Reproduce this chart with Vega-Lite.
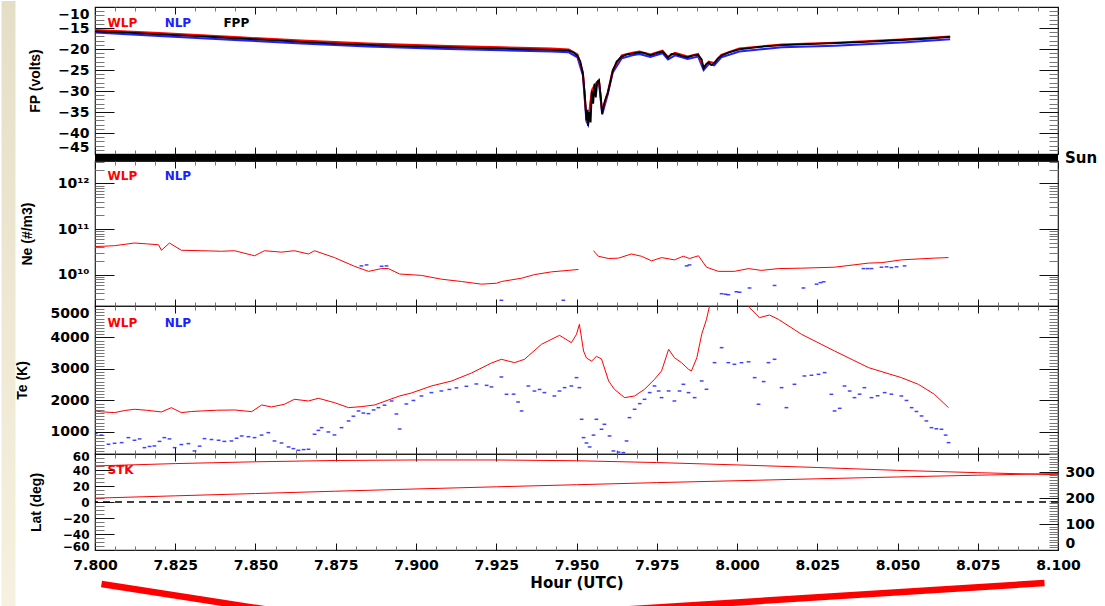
{
  "$schema": "https://vega.github.io/schema/vega-lite/v6.json",
  "padding": 0,
  "background": "#ffffff",
  "spacing": 0,
  "bounds": "flush",
  "config": {
    "font": "DejaVu Sans",
    "view": {"stroke": "#222222", "strokeWidth": 1.2},
    "axis": {
      "domain": false,
      "grid": false,
      "labelOverlap": false,
      "labelFont": "DejaVu Sans",
      "labelFontSize": 14,
      "labelFontWeight": "bold",
      "labelColor": "#000000",
      "titleFont": "Liberation Sans",
      "titleFontSize": 14,
      "titleFontWeight": "bold",
      "titleColor": "#000000",
      "tickWidth": 1
    },
    "text": {"font": "DejaVu Sans", "fontWeight": "bold", "fontSize": 12}
  },
  "datasets": {
    "fp": [
      {"t": 7.8000, "p": "NLP", "v": -16.1}, {"t": 7.8200, "p": "NLP", "v": -16.9}, {"t": 7.8450, "p": "NLP", "v": -17.9}, {"t": 7.8643, "p": "NLP", "v": -18.7},
      {"t": 7.8850, "p": "NLP", "v": -19.4}, {"t": 7.9100, "p": "NLP", "v": -20.0}, {"t": 7.9267, "p": "NLP", "v": -20.3}, {"t": 7.9422, "p": "NLP", "v": -20.6},
      {"t": 7.9476, "p": "NLP", "v": -20.8}, {"t": 7.9503, "p": "NLP", "v": -22.0}, {"t": 7.9520, "p": "NLP", "v": -26.3}, {"t": 7.9531, "p": "NLP", "v": -37.2},
      {"t": 7.9536, "p": "NLP", "v": -38.0}, {"t": 7.9548, "p": "NLP", "v": -30.3}, {"t": 7.9559, "p": "NLP", "v": -28.7}, {"t": 7.9570, "p": "NLP", "v": -27.9},
      {"t": 7.9580, "p": "NLP", "v": -35.6}, {"t": 7.9597, "p": "NLP", "v": -30.9}, {"t": 7.9613, "p": "NLP", "v": -25.6}, {"t": 7.9641, "p": "NLP", "v": -22.2},
      {"t": 7.9674, "p": "NLP", "v": -21.5}, {"t": 7.9696, "p": "NLP", "v": -21.2}, {"t": 7.9730, "p": "NLP", "v": -21.9}, {"t": 7.9768, "p": "NLP", "v": -21.0},
      {"t": 7.9785, "p": "NLP", "v": -22.5}, {"t": 7.9807, "p": "NLP", "v": -21.5}, {"t": 7.9846, "p": "NLP", "v": -22.4}, {"t": 7.9879, "p": "NLP", "v": -21.8},
      {"t": 7.9896, "p": "NLP", "v": -25.0}, {"t": 7.9912, "p": "NLP", "v": -23.6}, {"t": 7.9929, "p": "NLP", "v": -23.9}, {"t": 7.9951, "p": "NLP", "v": -22.0},
      {"t": 8.0007, "p": "NLP", "v": -20.6}, {"t": 8.0140, "p": "NLP", "v": -19.6}, {"t": 8.0305, "p": "NLP", "v": -19.2}, {"t": 8.0526, "p": "NLP", "v": -18.4},
      {"t": 8.0664, "p": "NLP", "v": -17.7},
      {"t": 7.8000, "p": "WLP", "v": -15.5}, {"t": 7.8200, "p": "WLP", "v": -16.2}, {"t": 7.8450, "p": "WLP", "v": -17.2}, {"t": 7.8643, "p": "WLP", "v": -18.0},
      {"t": 7.8850, "p": "WLP", "v": -18.7}, {"t": 7.9100, "p": "WLP", "v": -19.3}, {"t": 7.9267, "p": "WLP", "v": -19.6}, {"t": 7.9422, "p": "WLP", "v": -19.9},
      {"t": 7.9476, "p": "WLP", "v": -20.1}, {"t": 7.9503, "p": "WLP", "v": -21.3}, {"t": 7.9520, "p": "WLP", "v": -25.5}, {"t": 7.9531, "p": "WLP", "v": -36.5},
      {"t": 7.9536, "p": "WLP", "v": -37.5}, {"t": 7.9548, "p": "WLP", "v": -29.8}, {"t": 7.9559, "p": "WLP", "v": -28.3}, {"t": 7.9570, "p": "WLP", "v": -27.4},
      {"t": 7.9580, "p": "WLP", "v": -35.0}, {"t": 7.9597, "p": "WLP", "v": -30.4}, {"t": 7.9613, "p": "WLP", "v": -25.0}, {"t": 7.9641, "p": "WLP", "v": -21.5},
      {"t": 7.9674, "p": "WLP", "v": -20.9}, {"t": 7.9696, "p": "WLP", "v": -20.6}, {"t": 7.9730, "p": "WLP", "v": -21.3}, {"t": 7.9768, "p": "WLP", "v": -20.4},
      {"t": 7.9785, "p": "WLP", "v": -21.9}, {"t": 7.9807, "p": "WLP", "v": -20.9}, {"t": 7.9846, "p": "WLP", "v": -21.8}, {"t": 7.9879, "p": "WLP", "v": -21.2},
      {"t": 7.9896, "p": "WLP", "v": -24.4}, {"t": 7.9912, "p": "WLP", "v": -23.0}, {"t": 7.9929, "p": "WLP", "v": -23.3}, {"t": 7.9951, "p": "WLP", "v": -21.4},
      {"t": 8.0007, "p": "WLP", "v": -19.9}, {"t": 8.0140, "p": "WLP", "v": -18.9}, {"t": 8.0305, "p": "WLP", "v": -18.5}, {"t": 8.0526, "p": "WLP", "v": -17.7},
      {"t": 8.0664, "p": "WLP", "v": -17.0},
      {"t": 7.8000, "p": "FPP", "v": -15.8}, {"t": 7.8100, "p": "FPP", "v": -16.1}, {"t": 7.8200, "p": "FPP", "v": -16.5}, {"t": 7.8332, "p": "FPP", "v": -17.0},
      {"t": 7.8450, "p": "FPP", "v": -17.5}, {"t": 7.8550, "p": "FPP", "v": -17.9}, {"t": 7.8643, "p": "FPP", "v": -18.3}, {"t": 7.8750, "p": "FPP", "v": -18.7},
      {"t": 7.8850, "p": "FPP", "v": -19.0}, {"t": 7.8955, "p": "FPP", "v": -19.3}, {"t": 7.9100, "p": "FPP", "v": -19.6}, {"t": 7.9267, "p": "FPP", "v": -19.9},
      {"t": 7.9350, "p": "FPP", "v": -20.1}, {"t": 7.9422, "p": "FPP", "v": -20.2}, {"t": 7.9476, "p": "FPP", "v": -20.4}, {"t": 7.9490, "p": "FPP", "v": -20.8},
      {"t": 7.9503, "p": "FPP", "v": -21.6}, {"t": 7.9512, "p": "FPP", "v": -23.0}, {"t": 7.9520, "p": "FPP", "v": -25.9}, {"t": 7.9526, "p": "FPP", "v": -31.0},
      {"t": 7.9531, "p": "FPP", "v": -37.0}, {"t": 7.9534, "p": "FPP", "v": -34.5}, {"t": 7.9536, "p": "FPP", "v": -38.3}, {"t": 7.9540, "p": "FPP", "v": -35.0},
      {"t": 7.9544, "p": "FPP", "v": -37.5}, {"t": 7.9548, "p": "FPP", "v": -30.0}, {"t": 7.9552, "p": "FPP", "v": -33.0}, {"t": 7.9556, "p": "FPP", "v": -28.3},
      {"t": 7.9560, "p": "FPP", "v": -31.5}, {"t": 7.9565, "p": "FPP", "v": -27.8}, {"t": 7.9570, "p": "FPP", "v": -27.5}, {"t": 7.9575, "p": "FPP", "v": -31.0},
      {"t": 7.9580, "p": "FPP", "v": -35.4}, {"t": 7.9586, "p": "FPP", "v": -33.0}, {"t": 7.9592, "p": "FPP", "v": -31.5}, {"t": 7.9597, "p": "FPP", "v": -30.6},
      {"t": 7.9605, "p": "FPP", "v": -28.0}, {"t": 7.9613, "p": "FPP", "v": -25.2}, {"t": 7.9625, "p": "FPP", "v": -23.0}, {"t": 7.9641, "p": "FPP", "v": -21.8},
      {"t": 7.9657, "p": "FPP", "v": -21.3}, {"t": 7.9674, "p": "FPP", "v": -21.1}, {"t": 7.9696, "p": "FPP", "v": -20.8}, {"t": 7.9712, "p": "FPP", "v": -21.0},
      {"t": 7.9730, "p": "FPP", "v": -21.5}, {"t": 7.9750, "p": "FPP", "v": -21.0}, {"t": 7.9768, "p": "FPP", "v": -20.6}, {"t": 7.9776, "p": "FPP", "v": -21.3},
      {"t": 7.9785, "p": "FPP", "v": -22.1}, {"t": 7.9795, "p": "FPP", "v": -21.2}, {"t": 7.9807, "p": "FPP", "v": -21.1}, {"t": 7.9825, "p": "FPP", "v": -21.6},
      {"t": 7.9846, "p": "FPP", "v": -22.0}, {"t": 7.9862, "p": "FPP", "v": -21.6}, {"t": 7.9879, "p": "FPP", "v": -21.4}, {"t": 7.9890, "p": "FPP", "v": -22.5},
      {"t": 7.9896, "p": "FPP", "v": -24.6}, {"t": 7.9904, "p": "FPP", "v": -23.6}, {"t": 7.9912, "p": "FPP", "v": -23.2}, {"t": 7.9920, "p": "FPP", "v": -23.8},
      {"t": 7.9929, "p": "FPP", "v": -23.4}, {"t": 7.9940, "p": "FPP", "v": -22.3}, {"t": 7.9951, "p": "FPP", "v": -21.6}, {"t": 7.9975, "p": "FPP", "v": -20.8},
      {"t": 8.0007, "p": "FPP", "v": -20.1}, {"t": 8.0070, "p": "FPP", "v": -19.5}, {"t": 8.0140, "p": "FPP", "v": -19.1}, {"t": 8.0220, "p": "FPP", "v": -18.85},
      {"t": 8.0305, "p": "FPP", "v": -18.6}, {"t": 8.0400, "p": "FPP", "v": -18.3}, {"t": 8.0526, "p": "FPP", "v": -17.8}, {"t": 8.0600, "p": "FPP", "v": -17.5},
      {"t": 8.0664, "p": "FPP", "v": -17.1}
    ],
    "sun": [{"t0": 7.8, "t1": 8.1, "state": "Sun"}],
    "ne": [
      {"t": 7.8002, "p": "WLP", "seg": "a", "v": 4.17e10}, {"t": 7.8061, "p": "WLP", "seg": "a", "v": 4.37e10}, {"t": 7.8123, "p": "WLP", "seg": "a", "v": 5.0e10},
      {"t": 7.8160, "p": "WLP", "seg": "a", "v": 4.8e10}, {"t": 7.8198, "p": "WLP", "seg": "a", "v": 4.57e10}, {"t": 7.8207, "p": "WLP", "seg": "a", "v": 3.47e10},
      {"t": 7.8232, "p": "WLP", "seg": "a", "v": 5.0e10}, {"t": 7.8269, "p": "WLP", "seg": "a", "v": 3.47e10}, {"t": 7.8332, "p": "WLP", "seg": "a", "v": 3.39e10},
      {"t": 7.8394, "p": "WLP", "seg": "a", "v": 3.3e10}, {"t": 7.8435, "p": "WLP", "seg": "a", "v": 3.39e10}, {"t": 7.8497, "p": "WLP", "seg": "a", "v": 2.63e10},
      {"t": 7.8528, "p": "WLP", "seg": "a", "v": 3.39e10}, {"t": 7.8581, "p": "WLP", "seg": "a", "v": 3.16e10}, {"t": 7.8621, "p": "WLP", "seg": "a", "v": 3.39e10},
      {"t": 7.8665, "p": "WLP", "seg": "a", "v": 2.88e10}, {"t": 7.8684, "p": "WLP", "seg": "a", "v": 3.39e10}, {"t": 7.8746, "p": "WLP", "seg": "a", "v": 2.4e10},
      {"t": 7.8808, "p": "WLP", "seg": "a", "v": 1.55e10}, {"t": 7.8852, "p": "WLP", "seg": "a", "v": 1.2e10}, {"t": 7.8893, "p": "WLP", "seg": "a", "v": 1.38e10},
      {"t": 7.8914, "p": "WLP", "seg": "a", "v": 1.38e10}, {"t": 7.8949, "p": "WLP", "seg": "a", "v": 1.05e10}, {"t": 7.9017, "p": "WLP", "seg": "a", "v": 9.8e9},
      {"t": 7.9079, "p": "WLP", "seg": "a", "v": 8.1e9}, {"t": 7.9142, "p": "WLP", "seg": "a", "v": 7.2e9}, {"t": 7.9204, "p": "WLP", "seg": "a", "v": 6.3e9},
      {"t": 7.9251, "p": "WLP", "seg": "a", "v": 6.6e9}, {"t": 7.9266, "p": "WLP", "seg": "a", "v": 7.2e9}, {"t": 7.9329, "p": "WLP", "seg": "a", "v": 8.5e9},
      {"t": 7.9369, "p": "WLP", "seg": "a", "v": 1.02e10}, {"t": 7.9422, "p": "WLP", "seg": "a", "v": 1.17e10}, {"t": 7.9506, "p": "WLP", "seg": "a", "v": 1.32e10},
      {"t": 7.9553, "p": "WLP", "seg": "b", "v": 3.4e10}, {"t": 7.9568, "p": "WLP", "seg": "b", "v": 2.57e10}, {"t": 7.9600, "p": "WLP", "seg": "b", "v": 2.29e10},
      {"t": 7.9631, "p": "WLP", "seg": "b", "v": 2.34e10}, {"t": 7.9671, "p": "WLP", "seg": "b", "v": 2.88e10}, {"t": 7.9702, "p": "WLP", "seg": "b", "v": 2.57e10},
      {"t": 7.9734, "p": "WLP", "seg": "b", "v": 2.04e10}, {"t": 7.9765, "p": "WLP", "seg": "b", "v": 2.4e10}, {"t": 7.9805, "p": "WLP", "seg": "b", "v": 2.14e10},
      {"t": 7.9833, "p": "WLP", "seg": "b", "v": 2.57e10}, {"t": 7.9852, "p": "WLP", "seg": "b", "v": 2.29e10}, {"t": 7.9880, "p": "WLP", "seg": "b", "v": 2.63e10},
      {"t": 7.9905, "p": "WLP", "seg": "b", "v": 1.48e10}, {"t": 7.9942, "p": "WLP", "seg": "b", "v": 1.2e10}, {"t": 7.9992, "p": "WLP", "seg": "b", "v": 1.2e10},
      {"t": 8.0036, "p": "WLP", "seg": "b", "v": 1.38e10}, {"t": 8.0076, "p": "WLP", "seg": "b", "v": 1.26e10}, {"t": 8.0129, "p": "WLP", "seg": "b", "v": 1.38e10},
      {"t": 8.0201, "p": "WLP", "seg": "b", "v": 1.41e10}, {"t": 8.0304, "p": "WLP", "seg": "b", "v": 1.48e10}, {"t": 8.0410, "p": "WLP", "seg": "b", "v": 1.82e10},
      {"t": 8.0450, "p": "WLP", "seg": "b", "v": 1.86e10}, {"t": 8.0512, "p": "WLP", "seg": "b", "v": 2.14e10}, {"t": 8.0615, "p": "WLP", "seg": "b", "v": 2.34e10},
      {"t": 8.0659, "p": "WLP", "seg": "b", "v": 2.4e10},
      {"t": 7.8830, "p": "NLP", "seg": "a", "v": 1.58e10}, {"t": 7.8846, "p": "NLP", "seg": "a", "v": 1.66e10}, {"t": 7.8893, "p": "NLP", "seg": "a", "v": 1.55e10},
      {"t": 7.8908, "p": "NLP", "seg": "a", "v": 1.58e10}, {"t": 7.9266, "p": "NLP", "seg": "a", "v": 2.8e9}, {"t": 7.9459, "p": "NLP", "seg": "a", "v": 2.8e9},
      {"t": 7.9843, "p": "NLP", "seg": "a", "v": 1.58e10}, {"t": 7.9852, "p": "NLP", "seg": "a", "v": 1.66e10}, {"t": 7.9952, "p": "NLP", "seg": "a", "v": 3.9e9},
      {"t": 7.9964, "p": "NLP", "seg": "a", "v": 3.8e9}, {"t": 7.9973, "p": "NLP", "seg": "a", "v": 3.7e9}, {"t": 7.9998, "p": "NLP", "seg": "a", "v": 4.3e9},
      {"t": 8.0008, "p": "NLP", "seg": "a", "v": 4.2e9}, {"t": 8.0039, "p": "NLP", "seg": "a", "v": 5.2e9}, {"t": 8.0117, "p": "NLP", "seg": "a", "v": 5.9e9},
      {"t": 8.0207, "p": "NLP", "seg": "a", "v": 5.2e9}, {"t": 8.0248, "p": "NLP", "seg": "a", "v": 6.3e9}, {"t": 8.0260, "p": "NLP", "seg": "a", "v": 6.8e9},
      {"t": 8.0270, "p": "NLP", "seg": "a", "v": 7.1e9}, {"t": 8.0394, "p": "NLP", "seg": "a", "v": 1.38e10}, {"t": 8.0407, "p": "NLP", "seg": "a", "v": 1.38e10},
      {"t": 8.0419, "p": "NLP", "seg": "a", "v": 1.38e10}, {"t": 8.0450, "p": "NLP", "seg": "a", "v": 1.48e10}, {"t": 8.0466, "p": "NLP", "seg": "a", "v": 1.51e10},
      {"t": 8.0481, "p": "NLP", "seg": "a", "v": 1.45e10}, {"t": 8.0497, "p": "NLP", "seg": "a", "v": 1.51e10}, {"t": 8.0522, "p": "NLP", "seg": "a", "v": 1.58e10}
    ],
    "te": [
      {"t": 7.8002, "p": "WLP", "seg": "a", "v": 1667}, {"t": 7.8020, "p": "WLP", "seg": "a", "v": 1640}, {"t": 7.8061, "p": "WLP", "seg": "a", "v": 1614},
      {"t": 7.8092, "p": "WLP", "seg": "a", "v": 1680}, {"t": 7.8123, "p": "WLP", "seg": "a", "v": 1720}, {"t": 7.8160, "p": "WLP", "seg": "a", "v": 1690},
      {"t": 7.8207, "p": "WLP", "seg": "a", "v": 1635}, {"t": 7.8238, "p": "WLP", "seg": "a", "v": 1772}, {"t": 7.8269, "p": "WLP", "seg": "a", "v": 1614},
      {"t": 7.8301, "p": "WLP", "seg": "a", "v": 1650}, {"t": 7.8332, "p": "WLP", "seg": "a", "v": 1667}, {"t": 7.8379, "p": "WLP", "seg": "a", "v": 1690},
      {"t": 7.8435, "p": "WLP", "seg": "a", "v": 1698}, {"t": 7.8488, "p": "WLP", "seg": "a", "v": 1645}, {"t": 7.8519, "p": "WLP", "seg": "a", "v": 1857},
      {"t": 7.8550, "p": "WLP", "seg": "a", "v": 1794}, {"t": 7.8590, "p": "WLP", "seg": "a", "v": 1879}, {"t": 7.8621, "p": "WLP", "seg": "a", "v": 2037},
      {"t": 7.8665, "p": "WLP", "seg": "a", "v": 1984}, {"t": 7.8696, "p": "WLP", "seg": "a", "v": 2069}, {"t": 7.8746, "p": "WLP", "seg": "a", "v": 1931},
      {"t": 7.8790, "p": "WLP", "seg": "a", "v": 1772}, {"t": 7.8830, "p": "WLP", "seg": "a", "v": 1804}, {"t": 7.8871, "p": "WLP", "seg": "a", "v": 1857},
      {"t": 7.8914, "p": "WLP", "seg": "a", "v": 2016}, {"t": 7.8949, "p": "WLP", "seg": "a", "v": 2143}, {"t": 7.8986, "p": "WLP", "seg": "a", "v": 2238},
      {"t": 7.9048, "p": "WLP", "seg": "a", "v": 2460}, {"t": 7.9111, "p": "WLP", "seg": "a", "v": 2619}, {"t": 7.9173, "p": "WLP", "seg": "a", "v": 2873},
      {"t": 7.9235, "p": "WLP", "seg": "a", "v": 3190}, {"t": 7.9266, "p": "WLP", "seg": "a", "v": 3307}, {"t": 7.9307, "p": "WLP", "seg": "a", "v": 3201},
      {"t": 7.9338, "p": "WLP", "seg": "a", "v": 3307}, {"t": 7.9391, "p": "WLP", "seg": "a", "v": 3784}, {"t": 7.9447, "p": "WLP", "seg": "a", "v": 4069},
      {"t": 7.9484, "p": "WLP", "seg": "a", "v": 3836}, {"t": 7.9500, "p": "WLP", "seg": "a", "v": 4100}, {"t": 7.9509, "p": "WLP", "seg": "a", "v": 4418},
      {"t": 7.9522, "p": "WLP", "seg": "a", "v": 3571}, {"t": 7.9531, "p": "WLP", "seg": "a", "v": 3350}, {"t": 7.9547, "p": "WLP", "seg": "a", "v": 3250},
      {"t": 7.9562, "p": "WLP", "seg": "a", "v": 3400}, {"t": 7.9578, "p": "WLP", "seg": "a", "v": 3317}, {"t": 7.9600, "p": "WLP", "seg": "a", "v": 2619},
      {"t": 7.9618, "p": "WLP", "seg": "a", "v": 2355}, {"t": 7.9650, "p": "WLP", "seg": "a", "v": 2090}, {"t": 7.9681, "p": "WLP", "seg": "a", "v": 2143},
      {"t": 7.9712, "p": "WLP", "seg": "a", "v": 2355}, {"t": 7.9743, "p": "WLP", "seg": "a", "v": 2672}, {"t": 7.9765, "p": "WLP", "seg": "a", "v": 2937},
      {"t": 7.9787, "p": "WLP", "seg": "a", "v": 3625}, {"t": 7.9805, "p": "WLP", "seg": "a", "v": 3360}, {"t": 7.9827, "p": "WLP", "seg": "a", "v": 3201},
      {"t": 7.9849, "p": "WLP", "seg": "a", "v": 2990}, {"t": 7.9858, "p": "WLP", "seg": "a", "v": 2937}, {"t": 7.9875, "p": "WLP", "seg": "a", "v": 3360},
      {"t": 7.9890, "p": "WLP", "seg": "a", "v": 4101}, {"t": 7.9905, "p": "WLP", "seg": "a", "v": 4577}, {"t": 7.9921, "p": "WLP", "seg": "a", "v": 5300},
      {"t": 8.0020, "p": "WLP", "seg": "b", "v": 5300}, {"t": 8.0039, "p": "WLP", "seg": "b", "v": 4947}, {"t": 8.0070, "p": "WLP", "seg": "b", "v": 4630},
      {"t": 8.0101, "p": "WLP", "seg": "b", "v": 4714}, {"t": 8.0129, "p": "WLP", "seg": "b", "v": 4577}, {"t": 8.0201, "p": "WLP", "seg": "b", "v": 4101},
      {"t": 8.0304, "p": "WLP", "seg": "b", "v": 3571}, {"t": 8.0410, "p": "WLP", "seg": "b", "v": 3042}, {"t": 8.0512, "p": "WLP", "seg": "b", "v": 2725},
      {"t": 8.0565, "p": "WLP", "seg": "b", "v": 2513}, {"t": 8.0615, "p": "WLP", "seg": "b", "v": 2196}, {"t": 8.0659, "p": "WLP", "seg": "b", "v": 1772},
      {"t": 7.8002, "p": "NLP", "seg": "a", "v": 950}, {"t": 7.8020, "p": "NLP", "seg": "a", "v": 900}, {"t": 7.8042, "p": "NLP", "seg": "a", "v": 610},
      {"t": 7.8061, "p": "NLP", "seg": "a", "v": 640}, {"t": 7.8083, "p": "NLP", "seg": "a", "v": 661}, {"t": 7.8104, "p": "NLP", "seg": "a", "v": 820},
      {"t": 7.8123, "p": "NLP", "seg": "a", "v": 736}, {"t": 7.8139, "p": "NLP", "seg": "a", "v": 780}, {"t": 7.8154, "p": "NLP", "seg": "a", "v": 502},
      {"t": 7.8170, "p": "NLP", "seg": "a", "v": 540}, {"t": 7.8185, "p": "NLP", "seg": "a", "v": 556}, {"t": 7.8201, "p": "NLP", "seg": "a", "v": 700},
      {"t": 7.8216, "p": "NLP", "seg": "a", "v": 820}, {"t": 7.8232, "p": "NLP", "seg": "a", "v": 780}, {"t": 7.8248, "p": "NLP", "seg": "a", "v": 502},
      {"t": 7.8269, "p": "NLP", "seg": "a", "v": 600}, {"t": 7.8291, "p": "NLP", "seg": "a", "v": 630}, {"t": 7.8310, "p": "NLP", "seg": "a", "v": 397},
      {"t": 7.8326, "p": "NLP", "seg": "a", "v": 550}, {"t": 7.8341, "p": "NLP", "seg": "a", "v": 788}, {"t": 7.8363, "p": "NLP", "seg": "a", "v": 760},
      {"t": 7.8385, "p": "NLP", "seg": "a", "v": 736}, {"t": 7.8403, "p": "NLP", "seg": "a", "v": 700}, {"t": 7.8425, "p": "NLP", "seg": "a", "v": 714},
      {"t": 7.8441, "p": "NLP", "seg": "a", "v": 800}, {"t": 7.8457, "p": "NLP", "seg": "a", "v": 873}, {"t": 7.8478, "p": "NLP", "seg": "a", "v": 850},
      {"t": 7.8497, "p": "NLP", "seg": "a", "v": 820}, {"t": 7.8519, "p": "NLP", "seg": "a", "v": 900}, {"t": 7.8540, "p": "NLP", "seg": "a", "v": 978},
      {"t": 7.8559, "p": "NLP", "seg": "a", "v": 714}, {"t": 7.8581, "p": "NLP", "seg": "a", "v": 650}, {"t": 7.8603, "p": "NLP", "seg": "a", "v": 524},
      {"t": 7.8618, "p": "NLP", "seg": "a", "v": 470}, {"t": 7.8634, "p": "NLP", "seg": "a", "v": 418}, {"t": 7.8650, "p": "NLP", "seg": "a", "v": 440},
      {"t": 7.8665, "p": "NLP", "seg": "a", "v": 450}, {"t": 7.8684, "p": "NLP", "seg": "a", "v": 927}, {"t": 7.8696, "p": "NLP", "seg": "a", "v": 1050},
      {"t": 7.8706, "p": "NLP", "seg": "a", "v": 1137}, {"t": 7.8727, "p": "NLP", "seg": "a", "v": 1000}, {"t": 7.8746, "p": "NLP", "seg": "a", "v": 905},
      {"t": 7.8768, "p": "NLP", "seg": "a", "v": 1137}, {"t": 7.8790, "p": "NLP", "seg": "a", "v": 1349}, {"t": 7.8805, "p": "NLP", "seg": "a", "v": 1500},
      {"t": 7.8821, "p": "NLP", "seg": "a", "v": 1667}, {"t": 7.8836, "p": "NLP", "seg": "a", "v": 1600}, {"t": 7.8852, "p": "NLP", "seg": "a", "v": 1582},
      {"t": 7.8868, "p": "NLP", "seg": "a", "v": 1700}, {"t": 7.8883, "p": "NLP", "seg": "a", "v": 1772}, {"t": 7.8902, "p": "NLP", "seg": "a", "v": 1850},
      {"t": 7.8924, "p": "NLP", "seg": "a", "v": 1984}, {"t": 7.8939, "p": "NLP", "seg": "a", "v": 1571}, {"t": 7.8949, "p": "NLP", "seg": "a", "v": 1095},
      {"t": 7.8970, "p": "NLP", "seg": "a", "v": 1889}, {"t": 7.8992, "p": "NLP", "seg": "a", "v": 2000}, {"t": 7.9017, "p": "NLP", "seg": "a", "v": 2143},
      {"t": 7.9048, "p": "NLP", "seg": "a", "v": 2250}, {"t": 7.9079, "p": "NLP", "seg": "a", "v": 2302}, {"t": 7.9104, "p": "NLP", "seg": "a", "v": 2350},
      {"t": 7.9126, "p": "NLP", "seg": "a", "v": 2400}, {"t": 7.9157, "p": "NLP", "seg": "a", "v": 2450}, {"t": 7.9188, "p": "NLP", "seg": "a", "v": 2524},
      {"t": 7.9220, "p": "NLP", "seg": "a", "v": 2480}, {"t": 7.9235, "p": "NLP", "seg": "a", "v": 2430}, {"t": 7.9266, "p": "NLP", "seg": "a", "v": 2746},
      {"t": 7.9282, "p": "NLP", "seg": "a", "v": 2196}, {"t": 7.9304, "p": "NLP", "seg": "a", "v": 2200}, {"t": 7.9318, "p": "NLP", "seg": "a", "v": 1952},
      {"t": 7.9329, "p": "NLP", "seg": "a", "v": 1667}, {"t": 7.9350, "p": "NLP", "seg": "a", "v": 2460}, {"t": 7.9369, "p": "NLP", "seg": "a", "v": 2300},
      {"t": 7.9385, "p": "NLP", "seg": "a", "v": 2350}, {"t": 7.9400, "p": "NLP", "seg": "a", "v": 2250}, {"t": 7.9431, "p": "NLP", "seg": "a", "v": 2143},
      {"t": 7.9447, "p": "NLP", "seg": "a", "v": 2300}, {"t": 7.9463, "p": "NLP", "seg": "a", "v": 2407}, {"t": 7.9484, "p": "NLP", "seg": "a", "v": 2460},
      {"t": 7.9500, "p": "NLP", "seg": "a", "v": 2725}, {"t": 7.9509, "p": "NLP", "seg": "a", "v": 2407}, {"t": 7.9516, "p": "NLP", "seg": "a", "v": 1402},
      {"t": 7.9522, "p": "NLP", "seg": "a", "v": 820}, {"t": 7.9531, "p": "NLP", "seg": "a", "v": 650}, {"t": 7.9541, "p": "NLP", "seg": "a", "v": 524},
      {"t": 7.9553, "p": "NLP", "seg": "a", "v": 900}, {"t": 7.9562, "p": "NLP", "seg": "a", "v": 1402}, {"t": 7.9578, "p": "NLP", "seg": "a", "v": 1085},
      {"t": 7.9587, "p": "NLP", "seg": "a", "v": 1243}, {"t": 7.9603, "p": "NLP", "seg": "a", "v": 873}, {"t": 7.9615, "p": "NLP", "seg": "a", "v": 397},
      {"t": 7.9631, "p": "NLP", "seg": "a", "v": 360}, {"t": 7.9646, "p": "NLP", "seg": "a", "v": 344}, {"t": 7.9656, "p": "NLP", "seg": "a", "v": 714},
      {"t": 7.9665, "p": "NLP", "seg": "a", "v": 1455}, {"t": 7.9681, "p": "NLP", "seg": "a", "v": 1720}, {"t": 7.9697, "p": "NLP", "seg": "a", "v": 1900},
      {"t": 7.9712, "p": "NLP", "seg": "a", "v": 2037}, {"t": 7.9728, "p": "NLP", "seg": "a", "v": 2250}, {"t": 7.9743, "p": "NLP", "seg": "a", "v": 2460},
      {"t": 7.9756, "p": "NLP", "seg": "a", "v": 2300}, {"t": 7.9765, "p": "NLP", "seg": "a", "v": 2090}, {"t": 7.9787, "p": "NLP", "seg": "a", "v": 2302},
      {"t": 7.9805, "p": "NLP", "seg": "a", "v": 1984}, {"t": 7.9821, "p": "NLP", "seg": "a", "v": 2300}, {"t": 7.9833, "p": "NLP", "seg": "a", "v": 2513},
      {"t": 7.9849, "p": "NLP", "seg": "a", "v": 2249}, {"t": 7.9868, "p": "NLP", "seg": "a", "v": 2090}, {"t": 7.9890, "p": "NLP", "seg": "a", "v": 2619},
      {"t": 7.9905, "p": "NLP", "seg": "a", "v": 2355}, {"t": 7.9930, "p": "NLP", "seg": "a", "v": 3201}, {"t": 7.9952, "p": "NLP", "seg": "a", "v": 3677},
      {"t": 7.9973, "p": "NLP", "seg": "a", "v": 3201}, {"t": 7.9992, "p": "NLP", "seg": "a", "v": 3148}, {"t": 8.0014, "p": "NLP", "seg": "a", "v": 3200},
      {"t": 8.0036, "p": "NLP", "seg": "a", "v": 3228}, {"t": 8.0055, "p": "NLP", "seg": "a", "v": 2725}, {"t": 8.0067, "p": "NLP", "seg": "a", "v": 1879},
      {"t": 8.0083, "p": "NLP", "seg": "a", "v": 2600}, {"t": 8.0098, "p": "NLP", "seg": "a", "v": 3201}, {"t": 8.0117, "p": "NLP", "seg": "a", "v": 3307},
      {"t": 8.0139, "p": "NLP", "seg": "a", "v": 2407}, {"t": 8.0154, "p": "NLP", "seg": "a", "v": 1772}, {"t": 8.0179, "p": "NLP", "seg": "a", "v": 2513},
      {"t": 8.0210, "p": "NLP", "seg": "a", "v": 2778}, {"t": 8.0232, "p": "NLP", "seg": "a", "v": 2800}, {"t": 8.0254, "p": "NLP", "seg": "a", "v": 2831},
      {"t": 8.0273, "p": "NLP", "seg": "a", "v": 2884}, {"t": 8.0294, "p": "NLP", "seg": "a", "v": 2196}, {"t": 8.0304, "p": "NLP", "seg": "a", "v": 1667},
      {"t": 8.0320, "p": "NLP", "seg": "a", "v": 1750}, {"t": 8.0335, "p": "NLP", "seg": "a", "v": 2460}, {"t": 8.0351, "p": "NLP", "seg": "a", "v": 2300},
      {"t": 8.0366, "p": "NLP", "seg": "a", "v": 2090}, {"t": 8.0382, "p": "NLP", "seg": "a", "v": 2200}, {"t": 8.0397, "p": "NLP", "seg": "a", "v": 2407},
      {"t": 8.0419, "p": "NLP", "seg": "a", "v": 2090}, {"t": 8.0438, "p": "NLP", "seg": "a", "v": 2150}, {"t": 8.0460, "p": "NLP", "seg": "a", "v": 2249},
      {"t": 8.0481, "p": "NLP", "seg": "a", "v": 2200}, {"t": 8.0512, "p": "NLP", "seg": "a", "v": 2143}, {"t": 8.0528, "p": "NLP", "seg": "a", "v": 2000},
      {"t": 8.0544, "p": "NLP", "seg": "a", "v": 1772}, {"t": 8.0559, "p": "NLP", "seg": "a", "v": 1650}, {"t": 8.0575, "p": "NLP", "seg": "a", "v": 1508},
      {"t": 8.0590, "p": "NLP", "seg": "a", "v": 1350}, {"t": 8.0606, "p": "NLP", "seg": "a", "v": 1137}, {"t": 8.0621, "p": "NLP", "seg": "a", "v": 1100},
      {"t": 8.0637, "p": "NLP", "seg": "a", "v": 1085}, {"t": 8.0650, "p": "NLP", "seg": "a", "v": 900}, {"t": 8.0659, "p": "NLP", "seg": "a", "v": 661}
    ],
    "orbit": [
      {"t": 7.800, "lat": 4.8, "lon": 324}, {"t": 7.825, "lat": 7.7, "lon": 333}, {"t": 7.850, "lat": 10.6, "lon": 340},
      {"t": 7.875, "lat": 13.5, "lon": 345}, {"t": 7.900, "lat": 16.3, "lon": 347}, {"t": 7.925, "lat": 19.0, "lon": 347},
      {"t": 7.950, "lat": 21.6, "lon": 344}, {"t": 7.975, "lat": 24.2, "lon": 337}, {"t": 8.000, "lat": 26.6, "lon": 328},
      {"t": 8.025, "lat": 29.0, "lon": 318}, {"t": 8.050, "lat": 31.3, "lon": 307}, {"t": 8.075, "lat": 33.5, "lon": 298},
      {"t": 8.100, "lat": 35.6, "lon": 290}
    ],
    "links": [
      {"seg": "a", "t": 7.80202, "lon": -131.0}, {"seg": "a", "t": 7.86433, "lon": -250.5},
      {"seg": "b", "t": 7.95779, "lon": -235.1}, {"seg": "b", "t": 8.09579, "lon": -127.2}
    ]
  },
  "vconcat": [
    {
      "width": 963,
      "height": 147,
      "resolve": {"axis": {"x": "independent", "y": "independent"}},
      "layer": [
        {
          "data": {"name": "fp"},
          "transform": [{"filter": "datum.p == 'NLP'"}],
          "mark": {"type": "line", "color": "#2020ff", "strokeWidth": 2, "clip": true},
          "encoding": {
            "x": {"field": "t", "type": "quantitative", "scale": {"domain": [7.8, 8.1], "nice": false, "zero": false},
              "axis": {"orient": "bottom", "offset": -7, "tickSize": 7, "tickColor": "#111111", "labels": false, "title": null,
                "values": [7.8,7.825,7.85,7.875,7.9,7.925,7.95,7.975,8.0,8.025,8.05,8.075,8.1]}},
            "y": {"field": "v", "type": "quantitative", "scale": {"domain": [-45, -10], "nice": false, "zero": false},
              "axis": {"orient": "left", "offset": -19, "tickSize": 19, "tickColor": "#111111", "labelPadding": 6, "labelFlush": true,
                "values": [-45, -40, -35, -30, -25, -20, -15, -10],
                "title": "FP (volts)", "titleX": -78.5, "titleBaseline": "middle"}}
          }
        },
        {
          "data": {"name": "fp"},
          "transform": [{"filter": "datum.p == 'WLP'"}],
          "mark": {"type": "line", "color": "#ff0000", "strokeWidth": 2, "clip": true},
          "encoding": {
            "x": {"field": "t", "type": "quantitative", "scale": {"domain": [7.8, 8.1], "nice": false, "zero": false},
              "axis": {"orient": "bottom", "offset": -4, "tickSize": 4, "tickColor": "#777777", "labels": false, "title": null,
                "values": [7.80625,7.8125,7.81875,7.83125,7.8375,7.84375,7.85625,7.8625,7.86875,7.88125,7.8875,7.89375,7.90625,7.9125,7.91875,7.93125,7.9375,7.94375,7.95625,7.9625,7.96875,7.98125,7.9875,7.99375,8.00625,8.0125,8.01875,8.03125,8.0375,8.04375,8.05625,8.0625,8.06875,8.08125,8.0875,8.09375]}},
            "y": {"field": "v", "type": "quantitative", "scale": {"domain": [-45, -10], "nice": false, "zero": false},
              "axis": {"orient": "left", "offset": -9, "tickSize": 9, "tickColor": "#777777", "labels": false, "title": null,
                "values": [-44,-43,-42,-41,-39,-38,-37,-36,-34,-33,-32,-31,-29,-28,-27,-26,-24,-23,-22,-21,-19,-18,-17,-16,-14,-13,-12,-11]}}
          }
        },
        {
          "data": {"name": "fp"},
          "transform": [{"filter": "datum.p == 'FPP'"}],
          "mark": {"type": "line", "color": "#000000", "strokeWidth": 1.8, "clip": true},
          "encoding": {
            "x": {"field": "t", "type": "quantitative", "scale": {"domain": [7.8, 8.1], "nice": false, "zero": false},
              "axis": {"orient": "top", "offset": -7, "tickSize": 7, "tickColor": "#111111", "labels": false, "title": null,
                "values": [7.8,7.825,7.85,7.875,7.9,7.925,7.95,7.975,8.0,8.025,8.05,8.075,8.1]}},
            "y": {"field": "v", "type": "quantitative", "scale": {"domain": [-45, -10], "nice": false, "zero": false},
              "axis": {"orient": "right", "offset": -19, "tickSize": 19, "tickColor": "#111111", "labels": false, "title": null,
                "values": [-45, -40, -35, -30, -25, -20, -15, -10]}}
          }
        },
        {
          "data": {"values": [{"label": "WLP"}]},
          "mark": {"type": "text", "align": "left", "baseline": "middle", "color": "#ff0000"},
          "encoding": {
            "x": {"datum": 7.8039, "type": "quantitative",
              "axis": {"orient": "top", "offset": -4, "tickSize": 4, "tickColor": "#777777", "labels": false, "title": null,
                "values": [7.80625,7.8125,7.81875,7.83125,7.8375,7.84375,7.85625,7.8625,7.86875,7.88125,7.8875,7.89375,7.90625,7.9125,7.91875,7.93125,7.9375,7.94375,7.95625,7.9625,7.96875,7.98125,7.9875,7.99375,8.00625,8.0125,8.01875,8.03125,8.0375,8.04375,8.05625,8.0625,8.06875,8.08125,8.0875,8.09375]}},
            "y": {"datum": -13.8, "type": "quantitative",
              "axis": {"orient": "right", "offset": -9, "tickSize": 9, "tickColor": "#777777", "labels": false, "title": null,
                "values": [-44,-43,-42,-41,-39,-38,-37,-36,-34,-33,-32,-31,-29,-28,-27,-26,-24,-23,-22,-21,-19,-18,-17,-16,-14,-13,-12,-11]}},
            "text": {"field": "label"}
          }
        },
        {
          "data": {"values": [{"label": "NLP"}]},
          "mark": {"type": "text", "align": "left", "baseline": "middle", "color": "#2020ff"},
          "encoding": {
            "x": {"datum": 7.8217, "type": "quantitative", "axis": null},
            "y": {"datum": -13.8, "type": "quantitative", "axis": null},
            "text": {"field": "label"}
          }
        },
        {
          "data": {"values": [{"label": "FPP"}]},
          "mark": {"type": "text", "align": "left", "baseline": "middle", "color": "#000000"},
          "encoding": {
            "x": {"datum": 7.84, "type": "quantitative", "axis": null},
            "y": {"datum": -13.8, "type": "quantitative", "axis": null},
            "text": {"field": "label"}
          }
        }
      ]
    },
    {
      "width": 963,
      "height": 7,
      "view": {"stroke": null},
      "data": {"name": "sun"},
      "layer": [
        {
          "mark": {"type": "rect", "color": "#000000"},
          "encoding": {
            "x": {"field": "t0", "type": "quantitative", "scale": {"domain": [7.8, 8.1], "nice": false, "zero": false}, "axis": null},
            "x2": {"field": "t1"}
          }
        },
        {
          "mark": {"type": "text", "align": "left", "baseline": "middle", "dx": 7, "fontSize": 15, "color": "#000000"},
          "encoding": {
            "x": {"field": "t1", "type": "quantitative", "axis": null},
            "text": {"field": "state"}
          }
        }
      ]
    },
    {
      "width": 963,
      "height": 145,
      "resolve": {"axis": {"x": "independent", "y": "independent"}},
      "layer": [
        {
          "data": {"name": "ne"},
          "transform": [{"filter": "datum.p == 'WLP'"}],
          "mark": {"type": "line", "color": "#ff0000", "strokeWidth": 1, "clip": true},
          "encoding": {
            "detail": {"field": "seg"},
            "x": {"field": "t", "type": "quantitative", "scale": {"domain": [7.8, 8.1], "nice": false, "zero": false},
              "axis": {"orient": "bottom", "offset": -7, "tickSize": 7, "tickColor": "#111111", "labels": false, "title": null,
                "values": [7.8,7.825,7.85,7.875,7.9,7.925,7.95,7.975,8.0,8.025,8.05,8.075,8.1]}},
            "y": {"field": "v", "type": "quantitative", "scale": {"type": "log", "domain": [2.1e9, 3.1e12], "nice": false},
              "axis": {"orient": "left", "offset": -19, "tickSize": 19, "tickColor": "#111111", "labelPadding": 6, "labelFlush": false,
                "values": [1e10, 1e11, 1e12],
                "labelExpr": "datum.value > 5e11 ? '10¹²' : datum.value > 5e10 ? '10¹¹' : '10¹⁰'",
                "title": "Ne (#/m3)", "titleX": -86.5, "titleBaseline": "middle"}}
          }
        },
        {
          "data": {"name": "ne"},
          "transform": [{"filter": "datum.p == 'NLP'"}],
          "mark": {"type": "point", "shape": "M-1,-0.4H1V0.4H-1Z", "filled": true, "size": 14, "color": "#2020ff", "opacity": 0.85, "clip": true},
          "encoding": {
            "x": {"field": "t", "type": "quantitative", "scale": {"domain": [7.8, 8.1], "nice": false, "zero": false},
              "axis": {"orient": "bottom", "offset": -4, "tickSize": 4, "tickColor": "#777777", "labels": false, "title": null,
                "values": [7.80625,7.8125,7.81875,7.83125,7.8375,7.84375,7.85625,7.8625,7.86875,7.88125,7.8875,7.89375,7.90625,7.9125,7.91875,7.93125,7.9375,7.94375,7.95625,7.9625,7.96875,7.98125,7.9875,7.99375,8.00625,8.0125,8.01875,8.03125,8.0375,8.04375,8.05625,8.0625,8.06875,8.08125,8.0875,8.09375]}},
            "y": {"field": "v", "type": "quantitative", "scale": {"type": "log", "domain": [2.1e9, 3.1e12], "nice": false},
              "axis": {"orient": "left", "offset": -9, "tickSize": 9, "tickColor": "#777777", "labels": false, "title": null,
                "values": [3e9,4e9,5e9,6e9,7e9,8e9,9e9,2e10,3e10,4e10,5e10,6e10,7e10,8e10,9e10,2e11,3e11,4e11,5e11,6e11,7e11,8e11,9e11,2e12,3e12]}}
          }
        },
        {
          "data": {"values": [{"label": "WLP"}]},
          "mark": {"type": "text", "align": "left", "baseline": "middle", "color": "#ff0000"},
          "encoding": {
            "x": {"datum": 7.8039, "type": "quantitative",
              "axis": {"orient": "top", "offset": -7, "tickSize": 7, "tickColor": "#111111", "labels": false, "title": null,
                "values": [7.8,7.825,7.85,7.875,7.9,7.925,7.95,7.975,8.0,8.025,8.05,8.075,8.1]}},
            "y": {"datum": 1.46e12, "type": "quantitative",
              "axis": {"orient": "right", "offset": -19, "tickSize": 19, "tickColor": "#111111", "labels": false, "title": null,
                "values": [1e10, 1e11, 1e12]}},
            "text": {"field": "label"}
          }
        },
        {
          "data": {"values": [{"label": "NLP"}]},
          "mark": {"type": "text", "align": "left", "baseline": "middle", "color": "#2020ff"},
          "encoding": {
            "x": {"datum": 7.8217, "type": "quantitative",
              "axis": {"orient": "top", "offset": -4, "tickSize": 4, "tickColor": "#777777", "labels": false, "title": null,
                "values": [7.80625,7.8125,7.81875,7.83125,7.8375,7.84375,7.85625,7.8625,7.86875,7.88125,7.8875,7.89375,7.90625,7.9125,7.91875,7.93125,7.9375,7.94375,7.95625,7.9625,7.96875,7.98125,7.9875,7.99375,8.00625,8.0125,8.01875,8.03125,8.0375,8.04375,8.05625,8.0625,8.06875,8.08125,8.0875,8.09375]}},
            "y": {"datum": 1.46e12, "type": "quantitative",
              "axis": {"orient": "right", "offset": -9, "tickSize": 9, "tickColor": "#777777", "labels": false, "title": null,
                "values": [3e9,4e9,5e9,6e9,7e9,8e9,9e9,2e10,3e10,4e10,5e10,6e10,7e10,8e10,9e10,2e11,3e11,4e11,5e11,6e11,7e11,8e11,9e11,2e12,3e12]}},
            "text": {"field": "label"}
          }
        }
      ]
    },
    {
      "width": 963,
      "height": 148,
      "resolve": {"axis": {"x": "independent", "y": "independent"}},
      "layer": [
        {
          "data": {"name": "te"},
          "transform": [{"filter": "datum.p == 'WLP'"}],
          "mark": {"type": "line", "color": "#ff0000", "strokeWidth": 1, "clip": true},
          "encoding": {
            "detail": {"field": "seg"},
            "x": {"field": "t", "type": "quantitative", "scale": {"domain": [7.8, 8.1], "nice": false, "zero": false},
              "axis": {"orient": "bottom", "offset": -7, "tickSize": 7, "tickColor": "#111111", "labels": false, "title": null,
                "values": [7.8,7.825,7.85,7.875,7.9,7.925,7.95,7.975,8.0,8.025,8.05,8.075,8.1]}},
            "y": {"field": "v", "type": "quantitative", "scale": {"domain": [300, 5000], "nice": false, "zero": false},
              "axis": {"orient": "left", "offset": -19, "tickSize": 19, "tickColor": "#111111", "labelPadding": 6, "labelFlush": true, "format": "d",
                "values": [1000, 2000, 3000, 4000, 5000],
                "title": "Te (K)", "titleX": -92, "titleBaseline": "middle"}}
          }
        },
        {
          "data": {"name": "te"},
          "transform": [{"filter": "datum.p == 'NLP'"}],
          "mark": {"type": "point", "shape": "M-1,-0.4H1V0.4H-1Z", "filled": true, "size": 14, "color": "#2020ff", "opacity": 0.85, "clip": true},
          "encoding": {
            "x": {"field": "t", "type": "quantitative", "scale": {"domain": [7.8, 8.1], "nice": false, "zero": false},
              "axis": {"orient": "bottom", "offset": -4, "tickSize": 4, "tickColor": "#777777", "labels": false, "title": null,
                "values": [7.80625,7.8125,7.81875,7.83125,7.8375,7.84375,7.85625,7.8625,7.86875,7.88125,7.8875,7.89375,7.90625,7.9125,7.91875,7.93125,7.9375,7.94375,7.95625,7.9625,7.96875,7.98125,7.9875,7.99375,8.00625,8.0125,8.01875,8.03125,8.0375,8.04375,8.05625,8.0625,8.06875,8.08125,8.0875,8.09375]}},
            "y": {"field": "v", "type": "quantitative", "scale": {"domain": [300, 5000], "nice": false, "zero": false},
              "axis": {"orient": "left", "offset": -9, "tickSize": 9, "tickColor": "#777777", "labels": false, "title": null,
                "values": [300,400,500,600,700,800,900,1100,1200,1300,1400,1500,1600,1700,1800,1900,2100,2200,2300,2400,2500,2600,2700,2800,2900,3100,3200,3300,3400,3500,3600,3700,3800,3900,4100,4200,4300,4400,4500,4600,4700,4800,4900]}}
          }
        },
        {
          "data": {"values": [{"label": "WLP"}]},
          "mark": {"type": "text", "align": "left", "baseline": "middle", "color": "#ff0000"},
          "encoding": {
            "x": {"datum": 7.8039, "type": "quantitative",
              "axis": {"orient": "top", "offset": -7, "tickSize": 7, "tickColor": "#111111", "labels": false, "title": null,
                "values": [7.8,7.825,7.85,7.875,7.9,7.925,7.95,7.975,8.0,8.025,8.05,8.075,8.1]}},
            "y": {"datum": 4476, "type": "quantitative",
              "axis": {"orient": "right", "offset": -19, "tickSize": 19, "tickColor": "#111111", "labels": false, "title": null,
                "values": [1000, 2000, 3000, 4000, 5000]}},
            "text": {"field": "label"}
          }
        },
        {
          "data": {"values": [{"label": "NLP"}]},
          "mark": {"type": "text", "align": "left", "baseline": "middle", "color": "#2020ff"},
          "encoding": {
            "x": {"datum": 7.8217, "type": "quantitative",
              "axis": {"orient": "top", "offset": -4, "tickSize": 4, "tickColor": "#777777", "labels": false, "title": null,
                "values": [7.80625,7.8125,7.81875,7.83125,7.8375,7.84375,7.85625,7.8625,7.86875,7.88125,7.8875,7.89375,7.90625,7.9125,7.91875,7.93125,7.9375,7.94375,7.95625,7.9625,7.96875,7.98125,7.9875,7.99375,8.00625,8.0125,8.01875,8.03125,8.0375,8.04375,8.05625,8.0625,8.06875,8.08125,8.0875,8.09375]}},
            "y": {"datum": 4476, "type": "quantitative",
              "axis": {"orient": "right", "offset": -9, "tickSize": 9, "tickColor": "#777777", "labels": false, "title": null,
                "values": [300,400,500,600,700,800,900,1100,1200,1300,1400,1500,1600,1700,1800,1900,2100,2200,2300,2400,2500,2600,2700,2800,2900,3100,3200,3300,3400,3500,3600,3700,3800,3900,4100,4200,4300,4400,4500,4600,4700,4800,4900]}},
            "text": {"field": "label"}
          }
        }
      ]
    },
    {
      "width": 963,
      "height": 96,
      "resolve": {"scale": {"y": "independent"}, "axis": {"x": "independent", "y": "independent"}},
      "layer": [
        {
          "data": {"values": [{}]},
          "mark": {"type": "rect", "color": {"gradient": "linear", "x1": 0, "y1": 0, "x2": 0, "y2": 1,
            "stops": [{"offset": 0, "color": "#e5dec7"}, {"offset": 1, "color": "#f6f1e0"}]}},
          "encoding": {
            "x": {"datum": 7.77087, "type": "quantitative", "scale": {"domain": [7.8, 8.1], "nice": false, "zero": false}, "axis": null},
            "x2": {"datum": 7.77523},
            "y": {"datum": 626.25, "type": "quantitative", "scale": {"domain": [-60, 60], "nice": false, "zero": false}, "axis": null},
            "y2": {"datum": -140}
          }
        },
        {
          "data": {"values": [{}]},
          "mark": {"type": "rule", "color": "#000000", "strokeWidth": 1.5, "strokeDash": [7, 5]},
          "encoding": {
            "y": {"datum": 0, "type": "quantitative", "scale": {"domain": [-60, 60], "nice": false, "zero": false}, "axis": null}
          }
        },
        {
          "data": {"name": "orbit"},
          "mark": {"type": "line", "color": "#ff0000", "strokeWidth": 1, "clip": true},
          "encoding": {
            "x": {"field": "t", "type": "quantitative", "scale": {"domain": [7.8, 8.1], "nice": false, "zero": false},
              "axis": {"orient": "bottom", "offset": -7, "tickSize": 7, "tickColor": "#111111", "labelPadding": 8, "labelFlush": false, "format": ".3f",
                "values": [7.8, 7.825, 7.85, 7.875, 7.9, 7.925, 7.95, 7.975, 8.0, 8.025, 8.05, 8.075, 8.1],
                "title": "Hour (UTC)", "titleFont": "DejaVu Sans", "titleFontSize": 15, "titlePadding": 3}},
            "y": {"field": "lat", "type": "quantitative", "scale": {"domain": [-60, 60], "nice": false, "zero": false},
              "axis": {"orient": "left", "offset": -19, "tickSize": 19, "tickColor": "#111111", "labelPadding": 6, "labelFlush": true, "labelFlushOffset": 3, "labelFontSize": 12,
                "values": [-60, -40, -20, 0, 20, 40, 60],
                "title": "Lat (deg)", "titleX": -78, "titleBaseline": "middle"}}
          }
        },
        {
          "data": {"values": [{"label": "STK"}]},
          "mark": {"type": "text", "align": "left", "baseline": "middle", "color": "#ff0000"},
          "encoding": {
            "x": {"datum": 7.8039, "type": "quantitative", "scale": {"domain": [7.8, 8.1], "nice": false, "zero": false},
              "axis": {"orient": "bottom", "offset": -4, "tickSize": 4, "tickColor": "#777777", "labels": false, "title": null,
                "values": [7.80625,7.8125,7.81875,7.83125,7.8375,7.84375,7.85625,7.8625,7.86875,7.88125,7.8875,7.89375,7.90625,7.9125,7.91875,7.93125,7.9375,7.94375,7.95625,7.9625,7.96875,7.98125,7.9875,7.99375,8.00625,8.0125,8.01875,8.03125,8.0375,8.04375,8.05625,8.0625,8.06875,8.08125,8.0875,8.09375]}},
            "y": {"datum": 39.4, "type": "quantitative", "scale": {"domain": [-60, 60], "nice": false, "zero": false},
              "axis": {"orient": "left", "offset": -9, "tickSize": 9, "tickColor": "#777777", "labels": false, "title": null,
                "values": [-55,-50,-45,-35,-30,-25,-15,-10,-5,5,10,15,25,30,35,45,50,55]}},
            "text": {"field": "label"}
          }
        },
        {
          "data": {"name": "orbit"},
          "mark": {"type": "line", "color": "#ff0000", "strokeWidth": 1, "clip": true},
          "encoding": {
            "x": {"field": "t", "type": "quantitative", "scale": {"domain": [7.8, 8.1], "nice": false, "zero": false},
              "axis": {"orient": "top", "offset": -7, "tickSize": 7, "tickColor": "#111111", "labels": false, "title": null,
                "values": [7.8,7.825,7.85,7.875,7.9,7.925,7.95,7.975,8.0,8.025,8.05,8.075,8.1]}},
            "y": {"field": "lon", "type": "quantitative", "scale": {"domain": [0, 370], "nice": false, "zero": false},
              "axis": {"orient": "right", "offset": -19, "tickSize": 19, "tickColor": "#111111", "labelPadding": 7, "labelFlush": true,
                "values": [0, 100, 200, 300], "title": null}}
          }
        },
        {
          "data": {"name": "links"},
          "mark": {"type": "line", "color": "#ff0000", "strokeWidth": 6.5, "strokeCap": "butt"},
          "encoding": {
            "detail": {"field": "seg"},
            "x": {"field": "t", "type": "quantitative", "scale": {"domain": [7.8, 8.1], "nice": false, "zero": false},
              "axis": {"orient": "top", "offset": -4, "tickSize": 4, "tickColor": "#777777", "labels": false, "title": null,
                "values": [7.80625,7.8125,7.81875,7.83125,7.8375,7.84375,7.85625,7.8625,7.86875,7.88125,7.8875,7.89375,7.90625,7.9125,7.91875,7.93125,7.9375,7.94375,7.95625,7.9625,7.96875,7.98125,7.9875,7.99375,8.00625,8.0125,8.01875,8.03125,8.0375,8.04375,8.05625,8.0625,8.06875,8.08125,8.0875,8.09375]}},
            "y": {"field": "lon", "type": "quantitative", "scale": {"domain": [0, 370], "nice": false, "zero": false},
              "axis": {"orient": "right", "offset": -9, "tickSize": 9, "tickColor": "#777777", "labels": false, "title": null,
                "values": [10,20,30,40,50,60,70,80,90,110,120,130,140,150,160,170,180,190,210,220,230,240,250,260,270,280,290,310,320,330,340,350,360,370]}}
          }
        }
      ]
    }
  ]
}
